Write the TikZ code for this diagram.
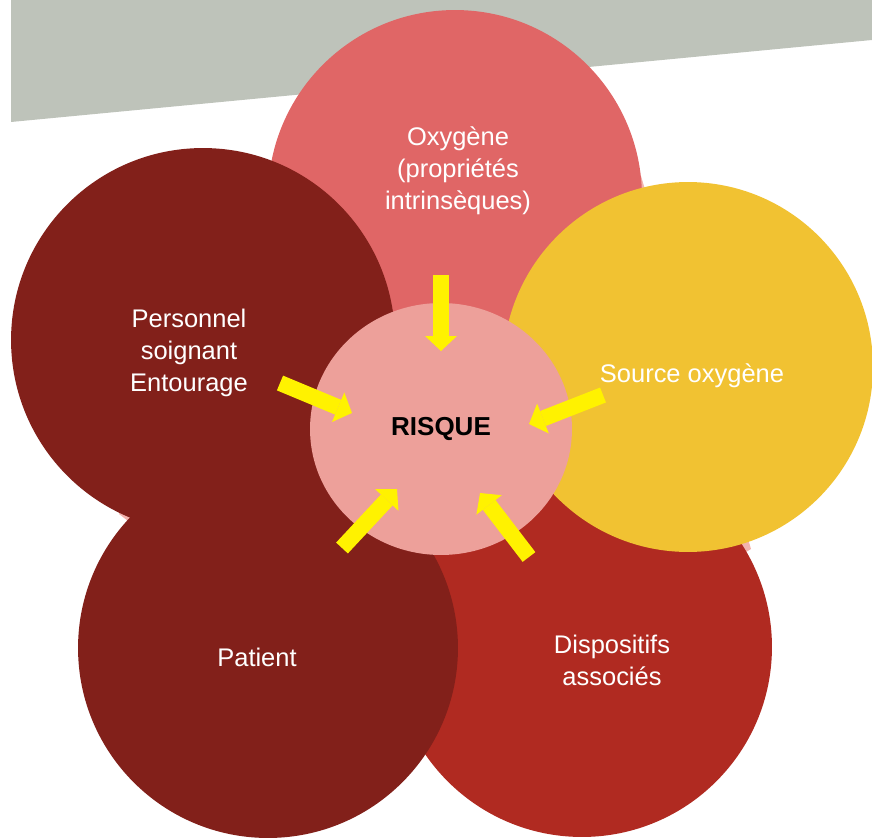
\documentclass[tikz,border=0pt]{standalone}
\usepackage{fontspec}
\setmainfont{Liberation Sans}
\usetikzlibrary{shapes.geometric,arrows.meta,positioning}

\definecolor{bandgray}{HTML}{BEC3BA}
\definecolor{oxypink}{HTML}{E06666}
\definecolor{darkred}{HTML}{82201A}
\definecolor{srcyellow}{HTML}{F1C232}
\definecolor{devred}{HTML}{B02A21}
\definecolor{riskpink}{HTML}{EDA09A}
\definecolor{palepink}{HTML}{F2B3AD}

\begin{document}
\begin{tikzpicture}[
    x=0.02cm,y=-0.02cm,
    petal/.style={circle,inner sep=0pt,minimum size=#1},
    lbl/.style={text=white,align=center,font=\fontsize{14.5}{18.2}\selectfont},
    feed/.style={draw=yellow,line width=0.32cm,
                 -{Triangle[length=0.3cm,width=0.64cm,line width=0pt]}}
]
\useasboundingbox (0,0) rectangle (872,838);

% slanted band at the top
\fill[bandgray] (11,0) -- (872,0) -- (872,40) -- (11,122) -- cycle;

% pale backing shape between the petals
\fill[palepink] (641,176) -- (751,549) -- (424,750) -- (119,514) -- (272,165) -- cycle;

% petals
\node[petal=7.48cm,fill=oxypink] (oxy) at (455,197) {};
\node[petal=7.6cm,fill=devred] (disp) at (582,647) {};
\node[petal=7.4cm,fill=srcyellow] (src) at (688,367) {};
\node[petal=7.6cm,fill=darkred] (pat) at (268,648) {};
\node[petal=7.68cm,fill=darkred] (pers) at (203,340) {};

% centre
\node[ellipse,inner sep=0pt,minimum width=5.24cm,minimum height=5.04cm,fill=riskpink,
      font=\fontsize{14.8}{18}\selectfont\bfseries] (risk) at (441,429) {RISQUE};

% petal texts
\node[lbl] (oxytxt) at (458,171) {Oxygène\\(propriétés\\intrinsèques)};
\node[lbl] (perstxt) at (189,353) {Personnel\\soignant\\Entourage};
\node[lbl] (srctxt) at (692,376) {Source oxygène};
\node[lbl] (pattxt) at (257,657) {Patient};
\node[lbl] (disptxt) at (612,660) {Dispositifs\\associés};

% arrows into the centre
\coordinate (oxytail) at (441,275);  \coordinate (oxyhead) at (441,351);
\coordinate (perstail) at (280,383); \coordinate (pershead) at (352,413);
\coordinate (srctail) at (603,395);  \coordinate (srchead) at (529,424);
\coordinate (pattail) at (342,548);  \coordinate (pathead) at (397,489);
\coordinate (disptail) at (529,557); \coordinate (disphead) at (480,493);

\draw[feed] (oxytail) -- (oxyhead);
\draw[feed] (perstail) -- (pershead);
\draw[feed] (srctail) -- (srchead);
\draw[feed] (pattail) -- (pathead);
\draw[feed] (disptail) -- (disphead);
\end{tikzpicture}
\end{document}
